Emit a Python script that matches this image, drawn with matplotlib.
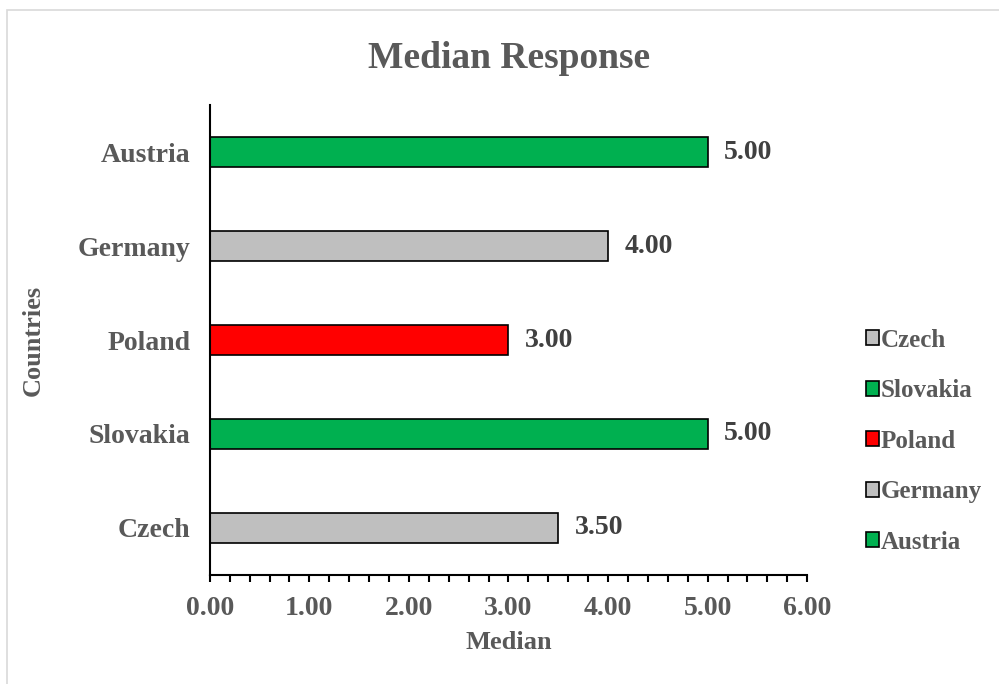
import matplotlib.pyplot as plt
from matplotlib.ticker import MultipleLocator, FormatStrFormatter
from matplotlib.patches import Rectangle, Patch

countries = ["Czech", "Slovakia", "Poland", "Germany", "Austria"]
medians = [3.5, 5.0, 3.0, 4.0, 5.0]
colors = ["#BFBFBF", "#00B050", "#FF0000", "#BFBFBF", "#00B050"]

plt.rcParams['font.family'] = ['Liberation Serif', 'DejaVu Serif']
plt.rcParams['font.weight'] = 'bold'
grey = "#595959"

fig = plt.figure(figsize=(9.99, 6.84), dpi=100)
ax = fig.add_axes([0.210, 0.1594, 0.598, 0.687])

# chart area outline
fig.patches.append(Rectangle((7 / 999, -0.05), 1.1, 1 - 10 / 684 + 0.05,
                             transform=fig.transFigure, fill=False,
                             edgecolor="#D9D9D9", linewidth=1.2))

ypos = range(len(countries))
ax.barh(ypos, medians, height=0.32, color=colors, edgecolor="black", linewidth=1.2)

for y, v in zip(ypos, medians):
    ax.annotate("%.2f" % v, (v, y), xytext=(12, 0), textcoords="offset points",
                va="center", ha="left", fontsize=20, fontweight="bold", color="#404040")

ax.set_xlim(0, 6)
ax.set_ylim(-0.5, len(countries) - 0.5)
ax.set_yticks(list(ypos))
ax.set_yticklabels(countries)
ax.xaxis.set_major_locator(MultipleLocator(1))
ax.xaxis.set_minor_locator(MultipleLocator(0.2))
ax.xaxis.set_major_formatter(FormatStrFormatter("%.2f"))

for s in ["top", "right"]:
    ax.spines[s].set_visible(False)
ax.spines["left"].set_linewidth(1.5)
ax.spines["bottom"].set_linewidth(1.5)

ax.tick_params(axis="x", which="both", direction="out", length=5, width=1.5,
               labelsize=20, labelcolor=grey, pad=10)
ax.tick_params(axis="y", length=0, labelsize=20, labelcolor=grey, pad=14)

ax.set_xlabel("Median", fontsize=19, fontweight="bold", color=grey, labelpad=7)
ax.set_ylabel("Countries", fontsize=19, fontweight="bold", color=grey, labelpad=24)
fig.suptitle("Median Response", x=0.51, y=0.94, fontsize=27, fontweight="bold", color=grey)

handles = [Patch(facecolor=c, edgecolor="black", linewidth=1.2, label=n)
           for n, c in zip(countries, colors)]
leg = fig.legend(handles=handles, loc="center left", bbox_to_anchor=(866 / 999, 0.355),
                 frameon=False, fontsize=18, handlelength=0.5, handleheight=0.55,
                 handletextpad=0.1, labelspacing=1.1, labelcolor=grey,
                 borderpad=0, borderaxespad=0)

fig.savefig("out.png", dpi=100)
